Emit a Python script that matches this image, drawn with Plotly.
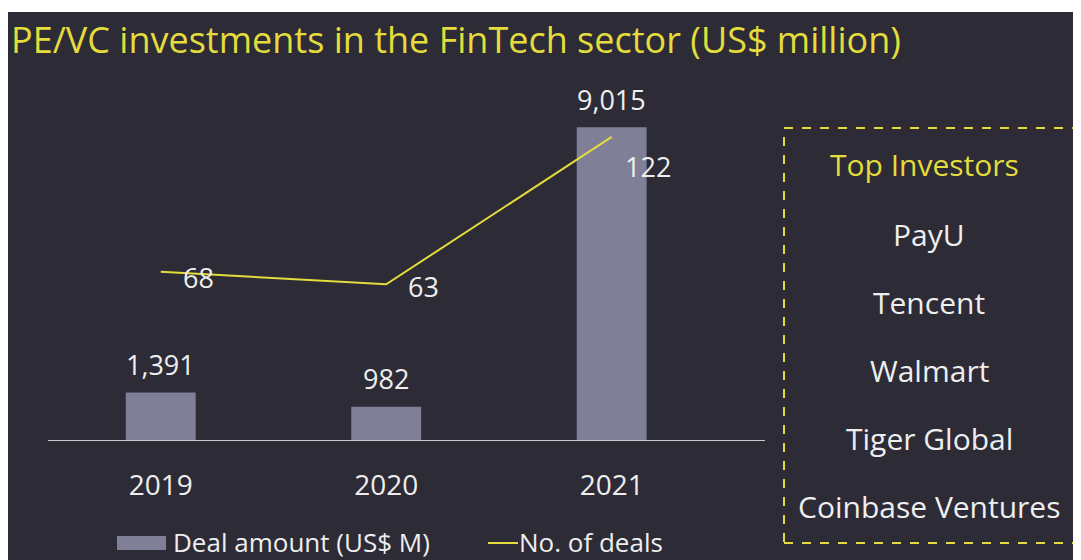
import plotly.graph_objects as go

years = ["2019", "2020", "2021"]
deal_amount = [1391, 982, 9015]
deal_count = [68, 63, 122]
investors = ["PayU", "Tencent", "Walmart", "Tiger Global", "Coinbase Ventures"]

BG = "#2c2b36"
BAR = "#7f7f98"
YELLOW = "#e3dc3c"
TEXT = "#eeeeee"
FONT = "Open Sans"

# the page body adds an 8px margin, so page pixels are shifted by OFF
OFF = 8
W, H = 1081 - OFF, 560 - OFF
# plot area in page pixels
L, R, T, B = 48, 765, 100, 441


def px_x(p):
    return (p - L) / (R - L)


def px_y(p):
    return (B - p) / (B - T)


fig = go.Figure()

fig.add_trace(
    go.Bar(
        x=years,
        y=deal_amount,
        name="Deal amount (US$ M)",
        marker=dict(color=BAR, line=dict(width=0)),
        width=0.31,
        showlegend=False,
    )
)

fig.add_trace(
    go.Scatter(
        x=years,
        y=deal_count,
        name="No. of deals",
        mode="lines",
        line=dict(color=YELLOW, width=2),
        yaxis="y2",
        showlegend=False,
    )
)

shapes = [
    # thin white strip at the top of the picture
    dict(
        type="rect", xref="paper", yref="paper",
        x0=px_x(OFF), x1=px_x(1081), y0=px_y(12), y1=px_y(OFF),
        fillcolor="white", line=dict(width=0), layer="below",
    ),
    # investors box
    dict(
        type="rect", xref="paper", yref="paper",
        x0=px_x(784), x1=px_x(1076), y0=px_y(543), y1=px_y(128),
        line=dict(color=YELLOW, width=2, dash="dash"),
    ),
    # legend symbols
    dict(
        type="rect", xref="paper", yref="paper",
        x0=px_x(117), x1=px_x(166), y0=px_y(550), y1=px_y(536),
        fillcolor=BAR, line=dict(width=0),
    ),
    dict(
        type="line", xref="paper", yref="paper",
        x0=px_x(488), x1=px_x(518), y0=px_y(543), y1=px_y(543),
        line=dict(color=YELLOW, width=2),
    ),
]

annotations = [
    dict(
        text="PE/VC investments in the FinTech sector (US$ million)",
        xref="paper", yref="paper", x=px_x(9), y=px_y(40),
        xanchor="left", yanchor="middle", showarrow=False,
        font=dict(size=36, color=YELLOW, family=FONT),
    ),
    dict(
        text="Top Investors",
        xref="paper", yref="paper", x=px_x(925), y=px_y(164),
        xanchor="center", yanchor="middle", showarrow=False,
        font=dict(size=30, color=YELLOW, family=FONT),
    ),
    dict(
        text="Deal amount (US$ M)",
        xref="paper", yref="paper", x=px_x(171), y=px_y(542),
        xanchor="left", yanchor="middle", showarrow=False,
        font=dict(size=26, color=TEXT, family=FONT),
    ),
    dict(
        text="No. of deals",
        xref="paper", yref="paper", x=px_x(517), y=px_y(542),
        xanchor="left", yanchor="middle", showarrow=False,
        font=dict(size=26, color=TEXT, family=FONT),
    ),
]
for i, name in enumerate(investors):
    annotations.append(
        dict(
            text=name,
            xref="paper", yref="paper", x=px_x(929), y=px_y(234 + i * 68),
            xanchor="center", yanchor="middle", showarrow=False,
            font=dict(size=30, color=TEXT, family=FONT),
        )
    )

# value labels above bars (category index used as x position)
for i, v in enumerate(deal_amount):
    annotations.append(
        dict(
            text=f"{v:,}", x=i, y=v, xref="x", yref="y",
            yanchor="middle", yshift=28, showarrow=False,
            font=dict(size=27, color=TEXT, family=FONT),
        )
    )

# deal count labels next to line points
count_shift = [(38, -6), (37, -2), (36, -30)]
for i, (v, (dx, dy)) in enumerate(zip(deal_count, count_shift)):
    annotations.append(
        dict(
            text=str(v), x=i, y=v, xref="x", yref="y2",
            xanchor="center", yanchor="middle", xshift=dx, yshift=dy,
            showarrow=False,
            font=dict(size=27, color=TEXT, family=FONT),
        )
    )

fig.update_layout(
    width=W,
    height=H,
    margin=dict(l=L - OFF, r=1081 - R, t=T - OFF, b=560 - B, pad=0),
    paper_bgcolor=BG,
    plot_bgcolor=BG,
    font=dict(family=FONT, color=TEXT),
    showlegend=False,
    xaxis=dict(
        type="category",
        range=[-0.5, 2.68],
        showgrid=False,
        zeroline=False,
        showline=False,
        ticks="",
        tickfont=dict(size=28, color=TEXT, family=FONT),
        ticklabelstandoff=25,
    ),
    yaxis=dict(
        range=[0, 9800],
        visible=False,
        showgrid=False,
        zeroline=False,
    ),
    yaxis2=dict(
        range=[0.25, 136.8],
        overlaying="y",
        side="right",
        visible=False,
        showgrid=False,
        zeroline=False,
    ),
    shapes=shapes,
    annotations=annotations,
)

fig.add_hline(y=0, line_color="#c9c9cf", line_width=2)

fig.write_html("out.html")
